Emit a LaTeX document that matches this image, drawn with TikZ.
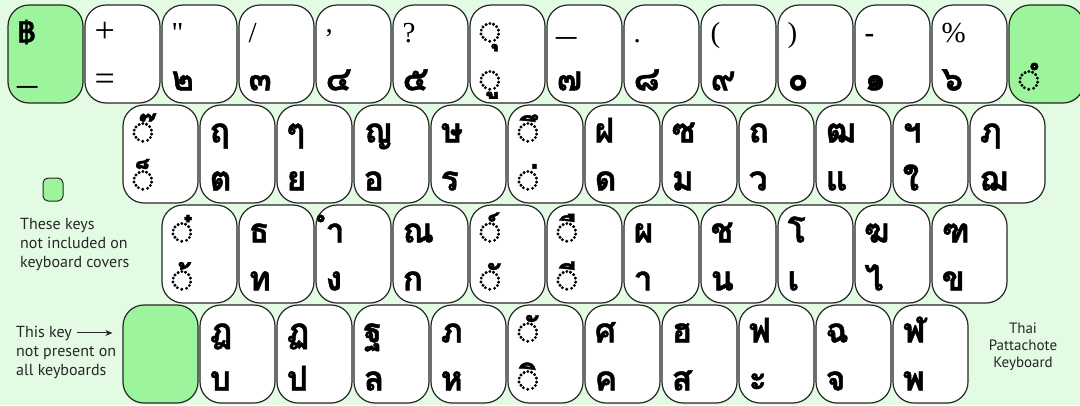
\documentclass[tikz,border=0pt]{standalone}
\usepackage{fontspec}
\usepackage{graphicx}
\setmainfont{Liberation Serif}
\newfontfamily\thai[Script=Thai, BoldFeatures={FakeBold=1.2}]{Loma}
\newfontfamily\ssf{PT Sans}
\usetikzlibrary{calc,arrows.meta}
\definecolor{bg}{HTML}{E3FBE3}
\definecolor{kg}{HTML}{9CF59C}
\tikzset{
  keybox/.style={draw=black!85, line width=1.2pt, rounded corners=21pt, minimum width=75pt, minimum height=98pt, inner sep=0pt, fill=white},
  lat/.style={inner sep=0pt, anchor=base west, font=\fontsize{29}{29}\selectfont},
  th/.style={inner sep=0pt, anchor=base west, font=\thai\bfseries\fontsize{34}{34}\selectfont},
  note/.style={font=\ssf\fontsize{16}{19}\selectfont, inner sep=0pt, text=black!85},
  arr/.style={-{Stealth[length=7pt,width=6pt]}, line width=1pt, black!85},
}
\newcommand\kb[8][white]{%
  \node[keybox, fill=#1] (#2) at (#3+37.5,#4+49) {};
  \node[#5] (#2u) at ($(#2.north west)+(10,38)$) {#6};
  \node[#7] (#2l) at ($(#2.north west)+(10,86)$) {#8};
}
\newcommand\ubar[1]{\raisebox{#1}{\scalebox{1.4}[1.3]{\_}}}
\begin{document}
\begin{tikzpicture}[x=1pt,y=-1pt]
\useasboundingbox (0,0) rectangle (1080,405);
\fill[bg] (0,0) rectangle (1080,405);
\clip (0,0) rectangle (1080,405);
% row 1
\kb[kg]{a1}{8}{5}{th}{{\fontsize{29}{29}\selectfont ฿}}{lat}{\ubar{6.5pt}}
\kb{a2}{85}{5}{lat}{{\fontsize{36}{36}\selectfont +}}{lat}{{\fontsize{36}{36}\selectfont =}}
\kb{a3}{162}{5}{lat}{\textquotedbl}{th}{๒}
\kb{a4}{239}{5}{lat}{/}{th}{๓}
\kb{a5}{316}{5}{lat}{\raisebox{10pt}{,}}{th}{๔}
\kb{a6}{393}{5}{lat}{?}{th}{๕}
\kb{a7}{470}{5}{th}{◌ุ}{th}{◌ู}
\kb{a8}{547}{5}{lat}{\ubar{7.5pt}}{th}{๗}
\kb{a9}{624}{5}{lat}{.}{th}{๘}
\kb{a10}{701}{5}{lat}{(}{th}{๙}
\kb{a11}{778}{5}{lat}{)}{th}{๐}
\kb{a12}{855}{5}{lat}{\textbf{-}}{th}{๑}
\kb{a13}{932}{5}{lat}{\%}{th}{๖}
\kb[kg]{a14}{1009}{5}{th}{}{th}{◌ํ}
% row 2
\kb{b1}{123}{105}{th}{◌๊}{th}{◌็}
\kb{b2}{200}{105}{th}{ฤ}{th}{ต}
\kb{b3}{277}{105}{th}{ๆ}{th}{ย}
\kb{b4}{354}{105}{th}{ญ}{th}{อ}
\kb{b5}{431}{105}{th}{ษ}{th}{ร}
\kb{b6}{508}{105}{th}{◌ึ}{th}{◌่}
\kb{b7}{585}{105}{th}{ฝ}{th}{ด}
\kb{b8}{662}{105}{th}{ซ}{th}{ม}
\kb{b9}{739}{105}{th}{ถ}{th}{ว}
\kb{b10}{816}{105}{th}{ฒ}{th}{แ}
\kb{b11}{893}{105}{th}{ฯ}{th}{ใ}
\kb{b12}{970}{105}{th}{ฦ}{th}{ฌ}
% row 3
\kb{c1}{162}{205}{th}{◌๋}{th}{◌้}
\kb{c2}{239}{205}{th}{ธ}{th}{ท}
\kb{c3}{316}{205}{th}{ำ}{th}{ง}
\kb{c4}{393}{205}{th}{ณ}{th}{ก}
\kb{c5}{470}{205}{th}{◌์}{th}{◌ั}
\kb{c6}{547}{205}{th}{◌ื}{th}{◌ี}
\kb{c7}{624}{205}{th}{ผ}{th}{า}
\kb{c8}{701}{205}{th}{ช}{th}{น}
\kb{c9}{778}{205}{th}{โ}{th}{เ}
\kb{c10}{855}{205}{th}{ฆ}{th}{ไ}
\kb{c11}{932}{205}{th}{ฑ}{th}{ข}
% row 4
\kb[kg]{d1}{123}{305}{th}{}{th}{}
\kb{d2}{200}{305}{th}{ฎ}{th}{บ}
\kb{d3}{277}{305}{th}{ฏ}{th}{ป}
\kb{d4}{354}{305}{th}{ฐ}{th}{ล}
\kb{d5}{431}{305}{th}{ภ}{th}{ห}
\kb{d6}{508}{305}{th}{◌ั}{th}{◌ิ}
\kb{d7}{585}{305}{th}{ศ}{th}{ค}
\kb{d8}{662}{305}{th}{ฮ}{th}{ส}
\kb{d9}{739}{305}{th}{ฟ}{th}{ะ}
\kb{d10}{816}{305}{th}{ฉ}{th}{จ}
\kb{d11}{893}{305}{th}{ฬ}{th}{พ}
% legends
\node[draw=black!85, fill=kg, line width=1pt, rounded corners=5pt, minimum width=20pt, minimum height=23pt, inner sep=0pt] (leg) at (53,189.5) {};
\node[note, anchor=base west, align=left] (t1) at (20,267) {These keys\\not included on\\keyboard covers};
\node[note, anchor=base west] (t2a) at (16,337) {This key};
\node[note, anchor=base west, align=left] (t2b) at (16,375) {not present on\\all keyboards};
\draw[arr] ([xshift=5pt]t2a.east) -- ([xshift=-10pt]t2a.east -| d1.west);
\node[note, anchor=base, align=center, font=\ssf\fontsize{15}{17}\selectfont] (ttl) at (1023,367) {Thai\\Pattachote\\Keyboard};
\end{tikzpicture}
\end{document}
